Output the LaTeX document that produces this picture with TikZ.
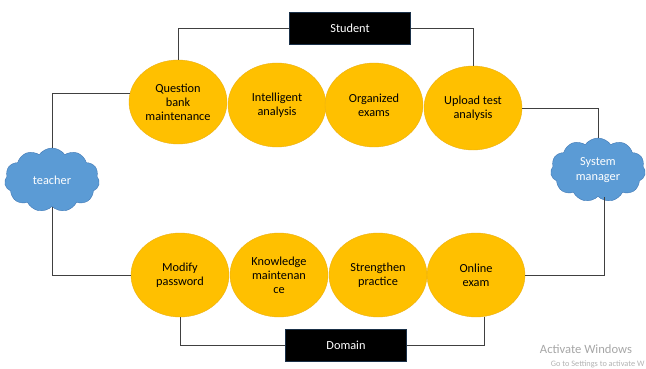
\documentclass[tikz,border=0pt]{standalone}
\usepackage{fontspec}
\setmainfont{Carlito}
\usetikzlibrary{shapes.symbols,shapes.geometric}
\definecolor{gold}{RGB}{255,192,0}
\definecolor{goldline}{RGB}{235,175,20}
\definecolor{skyblue}{RGB}{91,155,213}
\definecolor{skyline}{RGB}{65,120,180}
\definecolor{wire}{RGB}{64,64,64}
\tikzset{
  task/.style={ellipse, fill=gold, draw=goldline, minimum width=98pt, minimum height=84pt,
    align=center, inner sep=0pt, font=\fontsize{12.3}{13.8}\selectfont},
  actor/.style={cloud, cloud puffs=11, cloud puff arc=110, aspect=1.6, fill=skyblue, draw=skyline,
    minimum width=95pt, minimum height=64pt, align=center, text=white, font=\fontsize{12.3}{15}\selectfont},
  tag/.style={rectangle, fill=black, draw=skyline!40!black, minimum width=121pt, minimum height=32pt,
    text=white, font=\fontsize{12.3}{14}\selectfont},
  wire/.style={draw=wire, line width=0.9pt}
}
\begin{document}
\begin{tikzpicture}[x=1pt,y=-1pt]
\useasboundingbox (0,0) rectangle (646,369);
% top row
\node[task] (qbank) at (178,102) {Question\\bank\\maintenance};
\node[task] (smart) at (277,105) {Intelligent\\analysis};
\node[task] (organized) at (374,105) {Organized\\exams};
\node[task] (upload) at (473,108) {Upload test\\analysis};
% bottom row
\node[task] (modify) at (180,275) {Modify\\password};
\node[task] (knowledge) at (279,275) {Knowledge\\maintenan\\ce};
\node[task] (strengthen) at (378,275) {Strengthen\\practice};
\node[task] (online) at (476,275) {Online\\exam};
% actors
\node[actor] (teacher) at (52,180) {teacher};
\node[actor] (sysman) at (598,170) {System\\manager};
\node[tag] (student) at (350,28) {Student};
\node[tag] (domain) at (346,345) {Domain};
% connectors
\draw[wire] (student.west) -| (qbank.north);
\draw[wire] (student.east) -| (upload.north);
\draw[wire] (teacher.north) |- (qbank.170);
\draw[wire] (teacher.south) |- (modify.west);
\draw[wire] (upload.east) -| (sysman.north);
\draw[wire] (online.east) -| ([xshift=6pt]sysman.south);
\draw[wire] (modify.south) |- (domain.west);
\draw[wire] (domain.east) -| (online.-78);
% screen watermark
\node[text=black!35, font=\fontsize{12.6}{14}\selectfont] (wmark) at (586,349) {Activate Windows};
\node[text=black!30, font=\fontsize{8.3}{10}\selectfont, anchor=east] (wmark2) at (648,364) {Go to Settings to activate W};
\end{tikzpicture}
\end{document}
